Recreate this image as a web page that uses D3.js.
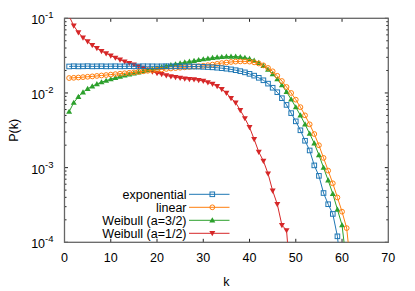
<!DOCTYPE html>
<html>
<head>
<meta charset="utf-8">
<script src="https://cdn.jsdelivr.net/npm/d3@7"></script>
<style>
  body { margin: 0; background: #fff; }
  text { font-family: "Liberation Sans", Arial, sans-serif; fill: #000; }
</style>
</head>
<body>
<div id="chart"></div>
<script>
// log10 P(k), k = 1, 2, 3 ...
var expLog = [-1.645, -1.642, -1.644, -1.643, -1.641, -1.644, -1.643, -1.642, -1.644, -1.643,
  -1.642, -1.644, -1.643, -1.642, -1.643, -1.644, -1.642, -1.643, -1.643, -1.644,
  -1.643, -1.642, -1.644, -1.643, -1.644, -1.644, -1.645, -1.646, -1.647, -1.65,
  -1.653, -1.657, -1.662, -1.668, -1.675, -1.684, -1.695, -1.708, -1.724, -1.744,
  -1.768, -1.797, -1.83, -1.875, -1.93, -1.99, -2.07, -2.16, -2.27, -2.38,
  -2.5, -2.64, -2.77, -2.97, -3.11, -3.34, -3.49, -3.62, -3.92, -4.5];

var linLog = [-1.8, -1.797, -1.793, -1.788, -1.783, -1.778, -1.772, -1.766, -1.76, -1.754,
  -1.748, -1.742, -1.736, -1.73, -1.724, -1.717, -1.71, -1.703, -1.696, -1.69,
  -1.684, -1.678, -1.672, -1.667, -1.662, -1.657, -1.652, -1.647, -1.642, -1.636,
  -1.628, -1.62, -1.61, -1.6, -1.592, -1.585, -1.58, -1.577, -1.577, -1.58,
  -1.59, -1.605, -1.63, -1.665, -1.71, -1.77, -1.84, -1.92, -2.0, -2.09,
  -2.19, -2.3, -2.42, -2.55, -2.7, -2.87, -3.04, -3.21, -3.4, -3.59,
  -3.81, -4.4];

var wb32Log = [-2.25, -2.13, -2.05, -1.99, -1.945, -1.91, -1.88, -1.855, -1.835, -1.815,
  -1.797, -1.78, -1.765, -1.75, -1.736, -1.722, -1.708, -1.694, -1.68, -1.666,
  -1.652, -1.639, -1.626, -1.614, -1.602, -1.59, -1.579, -1.568, -1.557, -1.547,
  -1.538, -1.53, -1.523, -1.517, -1.513, -1.511, -1.512, -1.517, -1.527, -1.542,
  -1.565, -1.595, -1.635, -1.685, -1.745, -1.815, -1.895, -1.985, -2.085, -2.19,
  -2.3, -2.42, -2.545, -2.675, -2.83, -3.0, -3.17, -3.35, -3.56, -3.77,
  -4.3];

var wb12Log = [-0.97, -1.1, -1.19, -1.26, -1.31, -1.36, -1.4, -1.44, -1.47, -1.5,
  -1.53, -1.555, -1.58, -1.6, -1.62, -1.645, -1.665, -1.69, -1.715, -1.735,
  -1.75, -1.765, -1.78, -1.79, -1.8, -1.81, -1.815, -1.82, -1.83, -1.84,
  -1.86, -1.88, -1.91, -1.95, -2.0, -2.07, -2.13, -2.23, -2.34, -2.46,
  -2.62, -2.79, -2.91, -3.08, -3.31, -3.49, -3.77, -3.84, -4.6];

var seriesNames = ['exponential', 'linear', 'Weibull (a=3/2)', 'Weibull (a=1/2)'];
var seriesColors = ['#1f77b4', '#ff7f0e', '#2ca02c', '#d62728'];
var xTicks = [0, 10, 20, 30, 40, 50, 60, 70];
var yTicks = [1e-4, 1e-3, 1e-2, 1e-1];
var yTickExp = ['-4', '-3', '-2', '-1'];

var width = 415, height = 291;
var margin = { left: 64.5, top: 18.3, right: 415 - 388.3, bottom: 291 - 242.3 };
var innerW = width - margin.left - margin.right;
var innerH = height - margin.top - margin.bottom;

var svg = d3.select('#chart').append('svg')
  .attr('width', width)
  .attr('height', height);

var x = d3.scaleLinear().domain([0, 70]).range([margin.left, margin.left + innerW]);
var y = d3.scaleLog().domain([1e-4, 1e-1]).range([margin.top + innerH, margin.top]);

svg.append('defs').append('clipPath').attr('id', 'plotClip')
  .append('rect')
  .attr('x', margin.left).attr('y', margin.top)
  .attr('width', innerW).attr('height', innerH);

// ticks (inward, all four sides)
var minorVals = [];
[1e-4, 1e-3, 1e-2].forEach(function (d) {
  for (var m = 2; m <= 9; m++) minorVals.push(d * m);
});

var tickG = svg.append('g').attr('stroke', '#222').attr('stroke-width', 1);
xTicks.slice(1, -1).forEach(function (t) {
  tickG.append('line').attr('x1', x(t)).attr('x2', x(t))
    .attr('y1', margin.top + innerH).attr('y2', margin.top + innerH - 3.5);
  tickG.append('line').attr('x1', x(t)).attr('x2', x(t))
    .attr('y1', margin.top).attr('y2', margin.top + 3.5);
});
yTicks.forEach(function (t) {
  tickG.append('line').attr('x1', margin.left).attr('x2', margin.left + 3.5)
    .attr('y1', y(t)).attr('y2', y(t));
  tickG.append('line').attr('x1', margin.left + innerW).attr('x2', margin.left + innerW - 3.5)
    .attr('y1', y(t)).attr('y2', y(t));
});
minorVals.forEach(function (t) {
  tickG.append('line').attr('x1', margin.left).attr('x2', margin.left + 2)
    .attr('y1', y(t)).attr('y2', y(t));
  tickG.append('line').attr('x1', margin.left + innerW).attr('x2', margin.left + innerW - 2)
    .attr('y1', y(t)).attr('y2', y(t));
});

// border
svg.append('rect')
  .attr('x', margin.left).attr('y', margin.top)
  .attr('width', innerW).attr('height', innerH)
  .attr('fill', 'none').attr('stroke', '#666').attr('stroke-width', 1.3);

// tick labels
svg.append('g').selectAll('text').data(xTicks).enter().append('text')
  .attr('x', function (d) { return x(d); })
  .attr('y', 262)
  .attr('text-anchor', 'middle')
  .style('font-size', '12.5px')
  .text(function (d) { return d; });

var yl = svg.append('g').selectAll('text').data(yTicks).enter().append('text')
  .attr('x', 53.5)
  .attr('y', function (d) { return y(d) + 6; })
  .attr('text-anchor', 'end')
  .style('font-size', '12.5px');
yl.append('tspan').text('10');
yl.append('tspan').attr('dy', -6).style('font-size', '9.5px')
  .text(function (d, i) { return yTickExp[i]; });

// axis titles
svg.append('text').attr('x', x(35)).attr('y', 285.5)
  .attr('text-anchor', 'middle').style('font-size', '12.5px').text('k');
svg.append('text')
  .attr('transform', 'translate(18,' + (margin.top + innerH / 2) + ') rotate(-90)')
  .attr('text-anchor', 'middle').style('font-size', '12.5px').text('P(k)');

// markers
function drawMarker(g, type, color, cx, cy) {
  if (type === 0) {
    g.append('rect').attr('x', cx - 2.3).attr('y', cy - 2.3)
      .attr('width', 4.6).attr('height', 4.6)
      .attr('fill', 'none').attr('stroke', color).attr('stroke-width', 1);
  } else if (type === 1) {
    g.append('circle').attr('cx', cx).attr('cy', cy).attr('r', 2.4)
      .attr('fill', 'none').attr('stroke', color).attr('stroke-width', 1);
  } else if (type === 2) {
    g.append('path')
      .attr('d', 'M' + cx + ',' + (cy - 3) + 'L' + (cx + 3) + ',' + (cy + 2.2) + 'L' + (cx - 3) + ',' + (cy + 2.2) + 'Z')
      .attr('fill', color);
  } else {
    g.append('path')
      .attr('d', 'M' + cx + ',' + (cy + 3) + 'L' + (cx + 3) + ',' + (cy - 2.2) + 'L' + (cx - 3) + ',' + (cy - 2.2) + 'Z')
      .attr('fill', color);
  }
}

var allSeries = [expLog, linLog, wb32Log, wb12Log].map(function (arr) {
  return arr.map(function (v, i) { return { k: i + 1, p: Math.pow(10, v) }; });
});

var line = d3.line()
  .x(function (d) { return x(d.k); })
  .y(function (d) { return y(d.p); });

var plot = svg.append('g').attr('clip-path', 'url(#plotClip)');
// draw in reverse so blue ends up on top like the reference
[3, 2, 1, 0].forEach(function (s) {
  var g = plot.append('g');
  g.append('path').datum(allSeries[s])
    .attr('d', line)
    .attr('fill', 'none')
    .attr('stroke', seriesColors[s])
    .attr('stroke-width', 1);
  allSeries[s].forEach(function (d) {
    drawMarker(g, s, seriesColors[s], x(d.k), y(d.p));
  });
});

// legend
var legY = [194.3, 207.3, 220.3, 233.3];
seriesNames.forEach(function (name, i) {
  svg.append('text').attr('x', 186.5).attr('y', legY[i] + 4.3)
    .attr('text-anchor', 'end').style('font-size', '12.5px').text(name);
  svg.append('line').attr('x1', 189).attr('x2', 229.5)
    .attr('y1', legY[i]).attr('y2', legY[i])
    .attr('stroke', seriesColors[i]).attr('stroke-width', 1);
  drawMarker(svg, i, seriesColors[i], 212.3, legY[i]);
});
</script>
</body>
</html>
